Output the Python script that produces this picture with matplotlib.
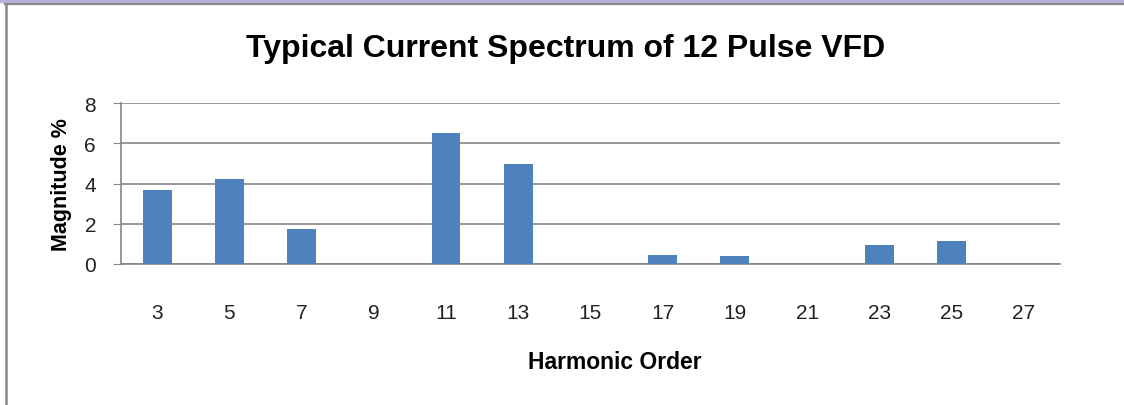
import matplotlib
matplotlib.use("Agg")
import matplotlib.pyplot as plt
from matplotlib.lines import Line2D
from matplotlib.patches import Rectangle

orders = [3, 5, 7, 9, 11, 13, 15, 17, 19, 21, 23, 25, 27]
magnitude = [3.68, 4.23, 1.74, 0, 6.52, 4.98, 0, 0.45, 0.40, 0, 0.95, 1.14, 0]

BLUE, GRID = "#4f81bd", "#868686"
plt.rcParams["font.family"] = ["Liberation Sans", "DejaVu Sans"]

fig = plt.figure(figsize=(11.24, 4.06), dpi=100)
ax = fig.add_axes([0.1077, 0.3473, 0.8353, 0.3965])

xs = list(range(len(orders)))
ax.bar(xs, magnitude, width=0.4, color=BLUE, zorder=3)
ax.set_xlim(-0.5, len(orders) - 0.5)
ax.set_ylim(0, 8)
ax.set_yticks([0, 2, 4, 6, 8])
ax.set_xticks(xs)
ax.set_xticklabels([str(o) for o in orders])
ax.yaxis.grid(True, color=GRID, lw=1.2, zorder=0)
for s in ("top", "right"):
    ax.spines[s].set_visible(False)
for s in ("left", "bottom"):
    ax.spines[s].set_color(GRID)
    ax.spines[s].set_linewidth(1.2)
ax.tick_params(axis="y", length=6, color=GRID, labelsize=15, pad=12, labelcolor="#222222")
ax.tick_params(axis="x", length=0, labelsize=15, pad=28, labelcolor="#222222")

ax.set_ylabel("Magnitude %", fontsize=15.5, fontweight="bold", labelpad=9)
ax.set_xlabel("Harmonic Order", fontsize=16.5, fontweight="bold", labelpad=20)
ax.xaxis.label.set_x(0.526)
fig.text(0.503, 0.879, "Typical Current Spectrum of 12 Pulse VFD", ha="center", va="center",
         fontsize=23, fontweight="bold")

# frame remnants: lavender strip, grey top and left border
fig.patches.append(Rectangle((0, 1 - 3 / 406), 1, 3 / 406, transform=fig.transFigure,
                             color="#b4b4d8", zorder=0))
fig.lines.append(Line2D([5 / 1124, 1], [1 - 4.5 / 406] * 2, transform=fig.transFigure,
                        color="#888888", lw=1.6))
fig.lines.append(Line2D([6 / 1124] * 2, [0, 1 - 4.5 / 406], transform=fig.transFigure,
                        color="#888888", lw=1.8))

fig.savefig("out.png", dpi=100)
